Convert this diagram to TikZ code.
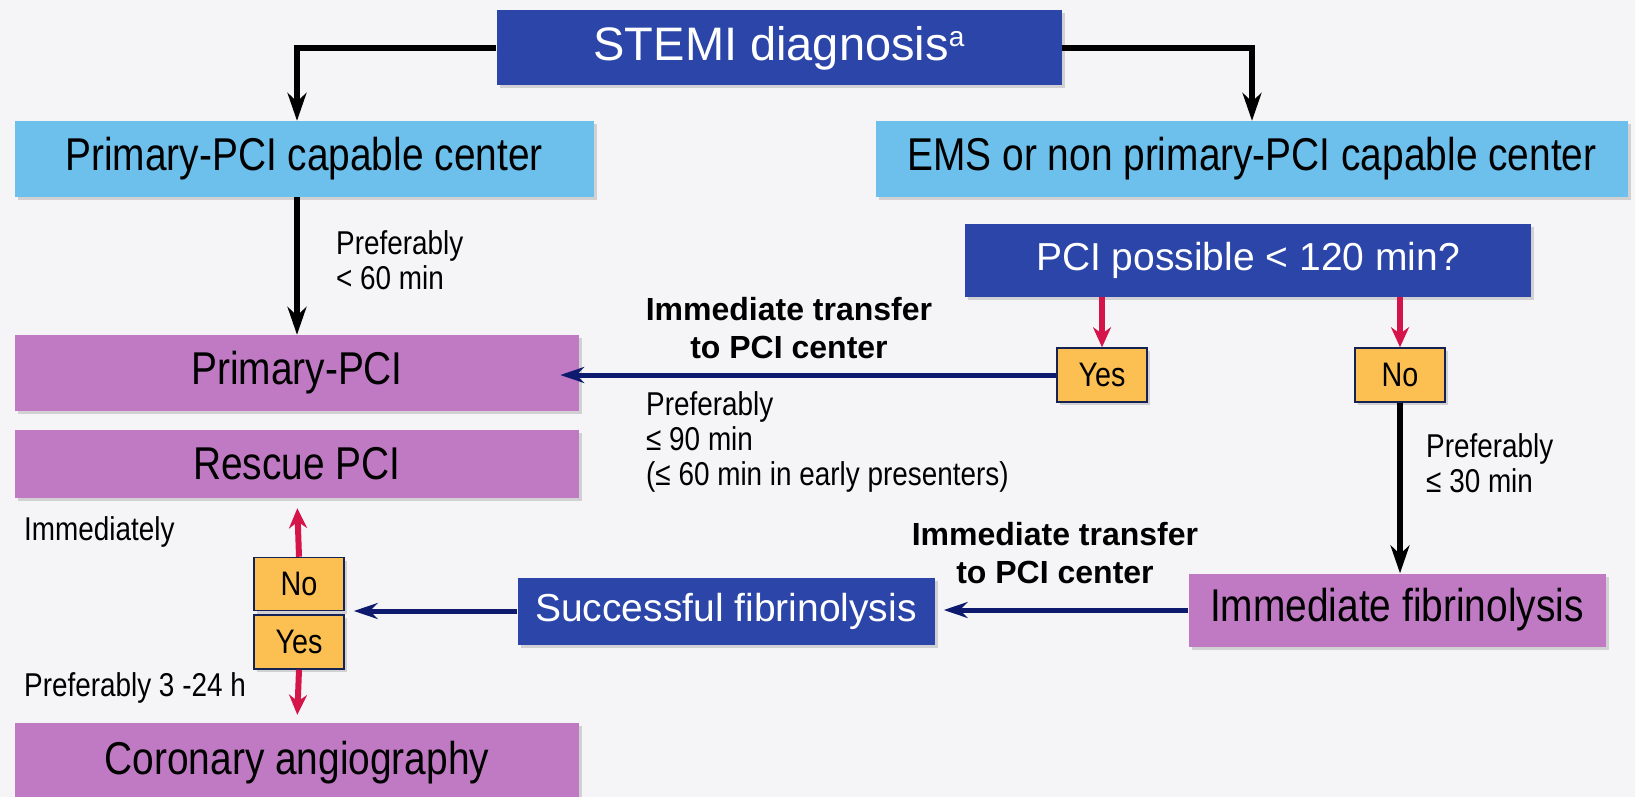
\documentclass[tikz,border=0pt]{standalone}
\usepackage{fontspec}
\setmainfont{Liberation Sans}
\newfontfamily\narrowsans{Liberation Sans}[FakeStretch=0.845]
\usetikzlibrary{arrows.meta,shadows}

\definecolor{stemiblue}{HTML}{2B45A8}
\definecolor{centerblue}{HTML}{6DC0EC}
\definecolor{pcipurple}{HTML}{C07AC4}
\definecolor{answerorange}{HTML}{FCC052}
\definecolor{answerred}{HTML}{D5154A}
\definecolor{transfernavy}{HTML}{0E1A6E}
\definecolor{slidegray}{HTML}{F5F5F8}

\begin{document}
\begin{tikzpicture}
  [x=1pt,y=-1pt,
   box/.style={rectangle,inner sep=0pt,
     drop shadow={shadow xshift=3pt,shadow yshift=-3pt,opacity=0.3}},
   darkbox/.style={box,fill=stemiblue,text=white,font=\fontsize{39}{42}\selectfont},
   lightbox/.style={box,fill=centerblue,font=\narrowsans\fontsize{46}{50}\selectfont},
   purplebox/.style={box,fill=pcipurple,font=\narrowsans\fontsize{46}{50}\selectfont},
   answer/.style={box,fill=answerorange,draw=black!50!stemiblue,line width=1.5pt,
     minimum width=90,minimum height=54,font=\narrowsans\fontsize{34}{36}\selectfont},
   note/.style={align=left,inner sep=0pt,font=\narrowsans\fontsize{33}{35}\selectfont},
   transfer/.style={align=center,inner sep=0pt,font=\bfseries\fontsize{32}{38}\selectfont}]

  \fill[slidegray] (0,0) rectangle (1635,797);
  \useasboundingbox (0,0) rectangle (1635,797);

  \node[darkbox,minimum width=565,minimum height=75,font=\fontsize{47}{50}\selectfont] (stemi) at (779,48)
       {STEMI diagnosis\raisebox{14pt}{\fontsize{28}{30}\selectfont a}};
  \node[lightbox,minimum width=579,minimum height=76] (capable) at (304,159) {Primary-PCI capable center};
  \node[lightbox,minimum width=752,minimum height=76] (ems) at (1252,159) {EMS or non primary-PCI capable center};
  \node[darkbox,minimum width=566,minimum height=73] (possible) at (1248,260) {PCI possible < 120 min?};
  \node[answer] (yes1) at (1102,375) {Yes};
  \node[answer] (no1)  at (1400,375) {No};

  \node[purplebox,minimum width=564,minimum height=76] (primary) at (297,373) {Primary-PCI};
  \node[purplebox,minimum width=564,minimum height=68] (rescue)  at (297,464) {Rescue PCI};
  \node[purplebox,minimum width=564,minimum height=80] (angio)   at (297,763) {Coronary angiography};
  \node[answer,minimum height=53] (no2)  at (299,584) {No};
  \node[answer] (yes2) at (299,642) {Yes};
  \node[darkbox,minimum width=417,minimum height=67] (success) at (726,611) {Successful fibrinolysis};
  \node[purplebox,minimum width=417,minimum height=73] (lysis) at (1397,610) {Immediate fibrinolysis};

  \node[note,anchor=north west] (lbl60) at (336,230) {Preferably\\< 60 min};
  \node[transfer] (move1) at (789,328) {Immediate transfer\\to PCI center};
  \node[note,anchor=north west] (lbl90) at (646,391) {Preferably\\≤ 90 min\\(≤ 60 min in early presenters)};
  \node[note,anchor=north west] (lbl30) at (1426,433) {Preferably\\≤ 30 min};
  \node[transfer] (move2) at (1055,553) {Immediate transfer\\to PCI center};
  \node[note,anchor=west] (now)  at (24,532) {Immediately};
  \node[note,anchor=west] (late) at (24,688) {Preferably 3 -24 h};

  \path[line width=5.5pt, -{Stealth[length=28pt,width=19pt]}]
        (stemi.west) edge[to path={-| (\tikztotarget)}] (capable.north -| primary)
        (stemi.east) edge[to path={-| (\tikztotarget)}] (ems.north)
        (capable.south -| primary) edge (primary.north)
        (no1.south) edge (no1.south |- lysis.north);

  \path[line width=6pt, answerred, -{Stealth[length=20pt,width=18pt]}]
        (possible.south -| yes1) edge (yes1.north)
        (possible.south -| no1)  edge (no1.north)
        (no2.north)  edge[shorten >=10pt] (rescue.south)
        (yes2.south) edge[shorten >=8pt]  (angio.north);

  \path[line width=5pt, transfernavy, -{Stealth[length=24pt,width=16pt]}]
        (yes1.west)    edge[shorten >=-19pt] (yes1.west -| primary.east)
        (lysis.west)   edge[shorten >=9pt]   (lysis.west -| success.east)
        (success.west) edge[shorten >=9pt]   (success.west -| no2.east);
\end{tikzpicture}
\end{document}
